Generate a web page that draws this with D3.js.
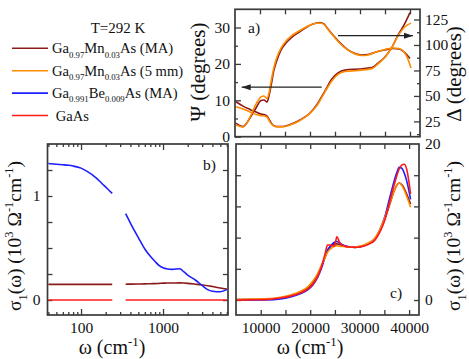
<!DOCTYPE html>
<html><head><meta charset="utf-8">
<script src="https://cdn.jsdelivr.net/npm/d3@7"></script>
<style>
body{margin:0;background:#fff}
svg text{font-family:'Liberation Serif','Times New Roman',serif;fill:#111;white-space:pre}
</style></head><body>
<svg id="c" width="469" height="359"></svg>
<script>
// ---------- Panel a) : ellipsometric angles ----------
const psiOmegaMA = [5200,6600,8000,9200,10200,10800,11400,12000,12600,13400,14400,16000,18000,20000,21600,23000,24400,25600,27000,29600,32400,33600,35000,36400,37600,39000,40000];
const psiMA      = [9.6,8.4,7.5,6.8,6.2,6.1,5.7,4.3,3.2,2.8,2.8,3.35,4.6,6.5,9.3,12.6,15.9,17.5,18.3,18.6,19.0,20.2,21.9,24.6,27.9,31.2,34.1];
const psiOmega5  = [5200,6600,8000,9200,10200,10800,11400,12000,12600,13400,14400,16000,18000,20000,21600,23000,24400,25600,27000,29600,32400,33600,35000,36400,37600,39000,40200];
const psi5mm     = [8.2,7.6,6.8,6.1,5.8,5.7,5.4,4.0,3.1,2.7,2.7,3.2,4.45,6.4,9.0,12.3,15.4,17.1,17.9,18.2,18.7,20.0,21.8,24.6,27.7,30.2,31.2];
const deltaOmegaMA = [5200,6600,8000,9200,10200,10800,11400,11800,12200,12800,13400,14200,15200,16400,18000,19400,20600,22000,22800,23600,24600,26000,27400,29000,30400,31600,33200,35000,36600,37800,38800,40000];
const deltaMA      = [23.4,20.0,28.4,38.2,45.5,46,44,50,59.8,75.5,85.3,95,102,107.8,113.2,117.7,120.6,122.1,120.6,115.7,109.8,102,96,91.6,90.2,90.7,93.1,95.1,96.6,96.1,93.2,86.7];
const deltaOmega5  = [5200,6600,8000,9200,10200,10800,11400,11800,12200,12800,13400,14200,15200,16400,18000,19400,20600,22000,22800,23600,24600,26000,27400,29000,30400,31600,33200,35000,36600,37800,38800,39400,40000,40200];
const delta5mm     = [21.5,19.5,29.2,42,49,50,47.5,52.9,63.7,78.4,88.2,97,103.9,109.3,114.2,118.2,120.6,121.6,120.2,115.2,109.3,101.5,95.6,91.2,89.7,90.2,93.1,95.6,97.1,96.6,93.2,88.3,80.4,77.4];
const psiTicks = [0,10,20,30];
const deltaTicks = [25,50,75,100,125];

// ---------- Panel b) : far-IR / mid-IR sigma1 (log omega) ----------
const bOmega   = [40,50,60,70,80,100,120,150,180,210,240,null,350,400,500,600,700,800,900,1000,1100,1300,1600,1800,2000,2500,3000,3500,4000,5000,6000];
const bBlue    = [1.312,1.305,1.300,1.295,1.288,1.268,1.235,1.18,1.12,1.07,1.025,null,0.83,0.74,0.60,0.49,0.42,0.37,0.33,0.31,0.30,0.295,0.30,0.27,0.24,0.19,0.14,0.10,0.085,0.08,0.10];
const bMaroon  = [0.15,0.15,0.15,0.15,0.15,0.15,0.15,0.15,0.15,0.15,0.15,null,0.152,0.153,0.154,0.155,0.157,0.158,0.16,0.162,0.163,0.164,0.165,0.163,0.16,0.152,0.145,0.138,0.13,0.115,0.105];
const bRed     = [0,0,0,0,0,0,0,0,0,0,0,null,0,0,0,0,0,0,0,0,0,0,0,0,0,0,0,0,0,0,0];
const bTickLabels = [100,1000];

// ---------- Panel c) : visible / UV sigma1 ----------
const cOmega  = [5000,8000,11000,14000,16000,18000,19500,20500,21500,22300,23000,23500,24200,24900,25400,26000,27000,28000,29000,30000,31000,32000,33000,34000,35000,36000,37000,37500,38000,38500,39000,39500,40300];
const cRed    = [0,0.02,0.05,0.25,0.5,0.9,1.4,2.0,3.0,4.3,5.9,7.05,7.05,6.9,8.1,7.3,6.9,6.8,6.75,6.8,6.95,7.2,7.6,8.6,10.1,12.4,14.8,15.9,16.8,17.3,17.4,16.8,13.6];
const cBlue   = [0,0,0.02,0.15,0.4,0.8,1.3,1.9,2.9,4.1,5.5,6.4,7.0,7.4,7.5,7.3,6.95,6.8,6.75,6.8,7.0,7.3,7.8,8.9,10.5,12.9,15.3,16.3,17.0,16.9,16.3,15.3,12.9];
const cMaroon = [0.05,0.08,0.12,0.3,0.55,0.95,1.5,2.2,3.2,4.4,5.5,6.3,6.9,7.2,7.2,7.1,6.9,6.8,6.8,6.85,7.0,7.3,7.8,8.7,10.2,12.1,14.0,14.7,15.0,14.8,14.3,13.6,12.3];
const cOrange = [0.05,0.1,0.15,0.35,0.65,1.1,1.7,2.4,3.4,4.5,5.4,6.1,6.6,6.9,6.95,6.9,6.85,6.8,6.8,6.9,7.1,7.4,7.9,8.9,10.4,12.2,14.0,14.7,15.0,14.7,14.1,13.3,11.9];
const cTickLabels = [10000,20000,30000,40000];

const colors = {ma:'#8b1a1a', mm:'#ff8c00', be:'#1e1eff', gaas:'#ff1a1a'};
const frameColor = '#3a3a3a';
const FONT = "'Liberation Serif','Times New Roman',serif";

const svg = d3.select('#c');

// scales
const xA = d3.scaleLinear([5000,42000],[235,420]);
const yPsi = d3.scaleLinear([0,35],[136.7,9.3]);
const yDelta = d3.scaleLinear([10,135],[136.7,9.3]);
const xB = d3.scaleLog([39,6200],[47.5,228]);
const yB = d3.scaleLinear([-0.144,1.5],[315,144]);
const xC = d3.scaleLinear([5000,42000],[236,419]);
const yC = d3.scaleLinear([-1.92,20],[315,144]);

function frame(xs, ys){
  svg.append('rect').attr('x',xs.range()[0]).attr('y',ys.range()[1])
    .attr('width',xs.range()[1]-xs.range()[0]).attr('height',ys.range()[0]-ys.range()[1])
    .attr('fill','none').attr('stroke',frameColor).attr('stroke-width',1.7);
}
function axis(fn, scale, tx, ty, values, len, labels, pad){
  const ax = fn(scale).tickValues(values).tickSize(-len).tickPadding(pad||6)
    .tickFormat(d => labels && labels.includes(d) ? String(d) : '');
  const g = svg.append('g').attr('transform',`translate(${tx},${ty})`).call(ax);
  g.attr('font-family', null).attr('font-size', null);
  g.select('.domain').remove();
  g.selectAll('line').attr('stroke',frameColor).attr('stroke-width',1.3);
  g.selectAll('text').attr('font-size',15.5).attr('font-family',FONT).attr('fill','#111');
  return g;
}
function line(xs, ys, xd, yd, color, curve){
  const pts = xd.map((x,i)=>[x, yd[i]]);
  const gen = d3.line().defined(d=>d[0]!=null && d[1]!=null)
    .x(d=>xs(d[0])).y(d=>ys(d[1])).curve(curve||d3.curveMonotoneX);
  svg.append('path').attr('d',gen(pts)).attr('fill','none').attr('stroke',color)
    .attr('stroke-width',1.6).attr('stroke-linejoin','round');
}
function rich(x, y, parts, size, anchor, rot, subScale){
  const t = svg.append('text').attr('x',x).attr('y',y).attr('font-size',size)
    .attr('text-anchor',anchor||'start').attr('font-family',FONT);
  if (rot) t.attr('transform',`rotate(${rot},${x},${y})`);
  let shift = 0;
  parts.forEach(([s,type])=>{
    const target = type==='sub' ? size*0.3 : type==='sup' ? -size*0.42 : 0;
    const sp = t.append('tspan').text(s).attr('dy', target-shift);
    shift = target;
    if (type==='sub' || type==='sup') sp.attr('font-size', size*(subScale||0.64));
  });
  return t;
}
function arrow(x1,y1,x2,y2){
  svg.append('line').attr('x1',x1).attr('y1',y1).attr('x2',x2).attr('y2',y2)
    .attr('stroke','#222').attr('stroke-width',1.3);
  const dir = Math.sign(x2-x1);
  svg.append('path').attr('d',`M${x2},${y2}L${x2-dir*9},${y2-3}L${x2-dir*9},${y2+3}Z`).attr('fill','#222');
}

// ---------- Panel a ----------
const aX = d3.range(10000,42000,5000);
axis(d3.axisBottom, xA, 0, yPsi.range()[0], aX, 5);
axis(d3.axisTop, xA, 0, yPsi.range()[1], aX, 5);
axis(d3.axisLeft, yPsi, xA.range()[0], 0, psiTicks, 6, psiTicks, 5);
axis(d3.axisLeft, yPsi, xA.range()[0], 0, [5,15,25], 3);
axis(d3.axisRight, yDelta, xA.range()[1], 0, deltaTicks, 6, deltaTicks, 5);
axis(d3.axisRight, yDelta, xA.range()[1], 0, [12.5,37.5,62.5,87.5,112.5], 3);
line(xA, yDelta, deltaOmegaMA, deltaMA, colors.ma);
line(xA, yPsi, psiOmegaMA, psiMA, colors.ma);
line(xA, yDelta, deltaOmega5, delta5mm, colors.mm);
line(xA, yPsi, psiOmega5, psi5mm, colors.mm);
frame(xA, yPsi);
arrow(xA(22340), yPsi(13.6), xA(6340), yPsi(13.6));
arrow(xA(25600), yDelta(109.1), xA(40600), yDelta(109.1));
rich(248, 33, [['a)','n']], 15.5);

// ---------- Panel b ----------
const bMinor = [40,50,60,70,80,90,200,300,400,500,600,700,800,900,2000,3000,4000,5000,6000];
axis(d3.axisBottom, xB, 0, yB.range()[0], bTickLabels, 6, bTickLabels, 7);
axis(d3.axisBottom, xB, 0, yB.range()[0], bMinor, 3);
axis(d3.axisTop, xB, 0, yB.range()[1], bTickLabels, 6);
axis(d3.axisTop, xB, 0, yB.range()[1], bMinor, 3);
const bY = [0,0.25,0.5,0.75,1,1.25];
axis(d3.axisLeft, yB, xB.range()[0], 0, bY, 5, [0,1], 7);
axis(d3.axisRight, yB, xB.range()[1], 0, bY, 5);
line(xB, yB, bOmega, bRed, colors.gaas, d3.curveLinear);
line(xB, yB, bOmega, bMaroon, colors.ma);
line(xB, yB, bOmega, bBlue, colors.be);
frame(xB, yB);
rich(203, 170, [['b)','n']], 15.5);

// ---------- Panel c ----------
const cX = d3.range(10000,42000,5000);
axis(d3.axisBottom, xC, 0, yC.range()[0], cX, 5, cTickLabels, 7);
axis(d3.axisTop, xC, 0, yC.range()[1], cX, 5);
const cY = [0,4,8,12,16];
axis(d3.axisLeft, yC, xC.range()[0], 0, cY, 5);
axis(d3.axisRight, yC, xC.range()[1], 0, cY, 5, [0], 6);
axis(d3.axisRight, yC, xC.range()[1], 0, [20], 0, [20], 6);
line(xC, yC, cOmega, cMaroon, colors.ma);
line(xC, yC, cOmega, cBlue, colors.be);
line(xC, yC, cOmega, cOrange, colors.mm);
line(xC, yC, cOmega, cRed, colors.gaas);
frame(xC, yC);
rich(390, 298, [['c)','n']], 15.5);

// ---------- axis titles ----------
rich(205, 72, [['Ψ (degrees)','n']], 21, 'middle', -90);
rich(461, 74, [['Δ (degrees)','n']], 21, 'middle', -90);
const sigmaParts = [['σ','n'],['1','sub'],['(ω) (10','n'],['3','sup'],[' Ω','n'],['-1','sup'],['cm','n'],['-1','sup'],[')','n']];
rich(21, 236, sigmaParts, 19.5, 'middle', -90);
rich(460, 236, sigmaParts, 19.5, 'middle', -90);
const omegaParts = [['ω (cm','n'],['-1','sup'],[')','n']];
rich(112, 354, omegaParts, 20, 'middle');
rich(310, 354, omegaParts, 20, 'middle');

// ---------- legend ----------
rich(118, 33, [['T=292 K','n']], 15, 'middle');
const legend = [
  {c:colors.ma, parts:[['Ga','n'],['0.97','sub'],['Mn','n'],['0.03','sub'],['As (MA)','n']]},
  {c:colors.mm, parts:[['Ga','n'],['0.97','sub'],['Mn','n'],['0.03','sub'],['As (5 mm)','n']]},
  {c:colors.be, parts:[['Ga','n'],['0.991','sub'],['Be','n'],['0.009','sub'],['As (MA)','n']]},
  {c:colors.gaas, parts:[[' GaAs','n']]}
];
legend.forEach((d,i)=>{
  const y = 48.3 + i*22.4;
  svg.append('line').attr('x1',12).attr('x2',48).attr('y1',y).attr('y2',y).attr('stroke',d.c).attr('stroke-width',1.6);
  rich(52, y+5, d.parts, 14.6, 'start', 0, 0.6);
});
</script>
</body></html>
